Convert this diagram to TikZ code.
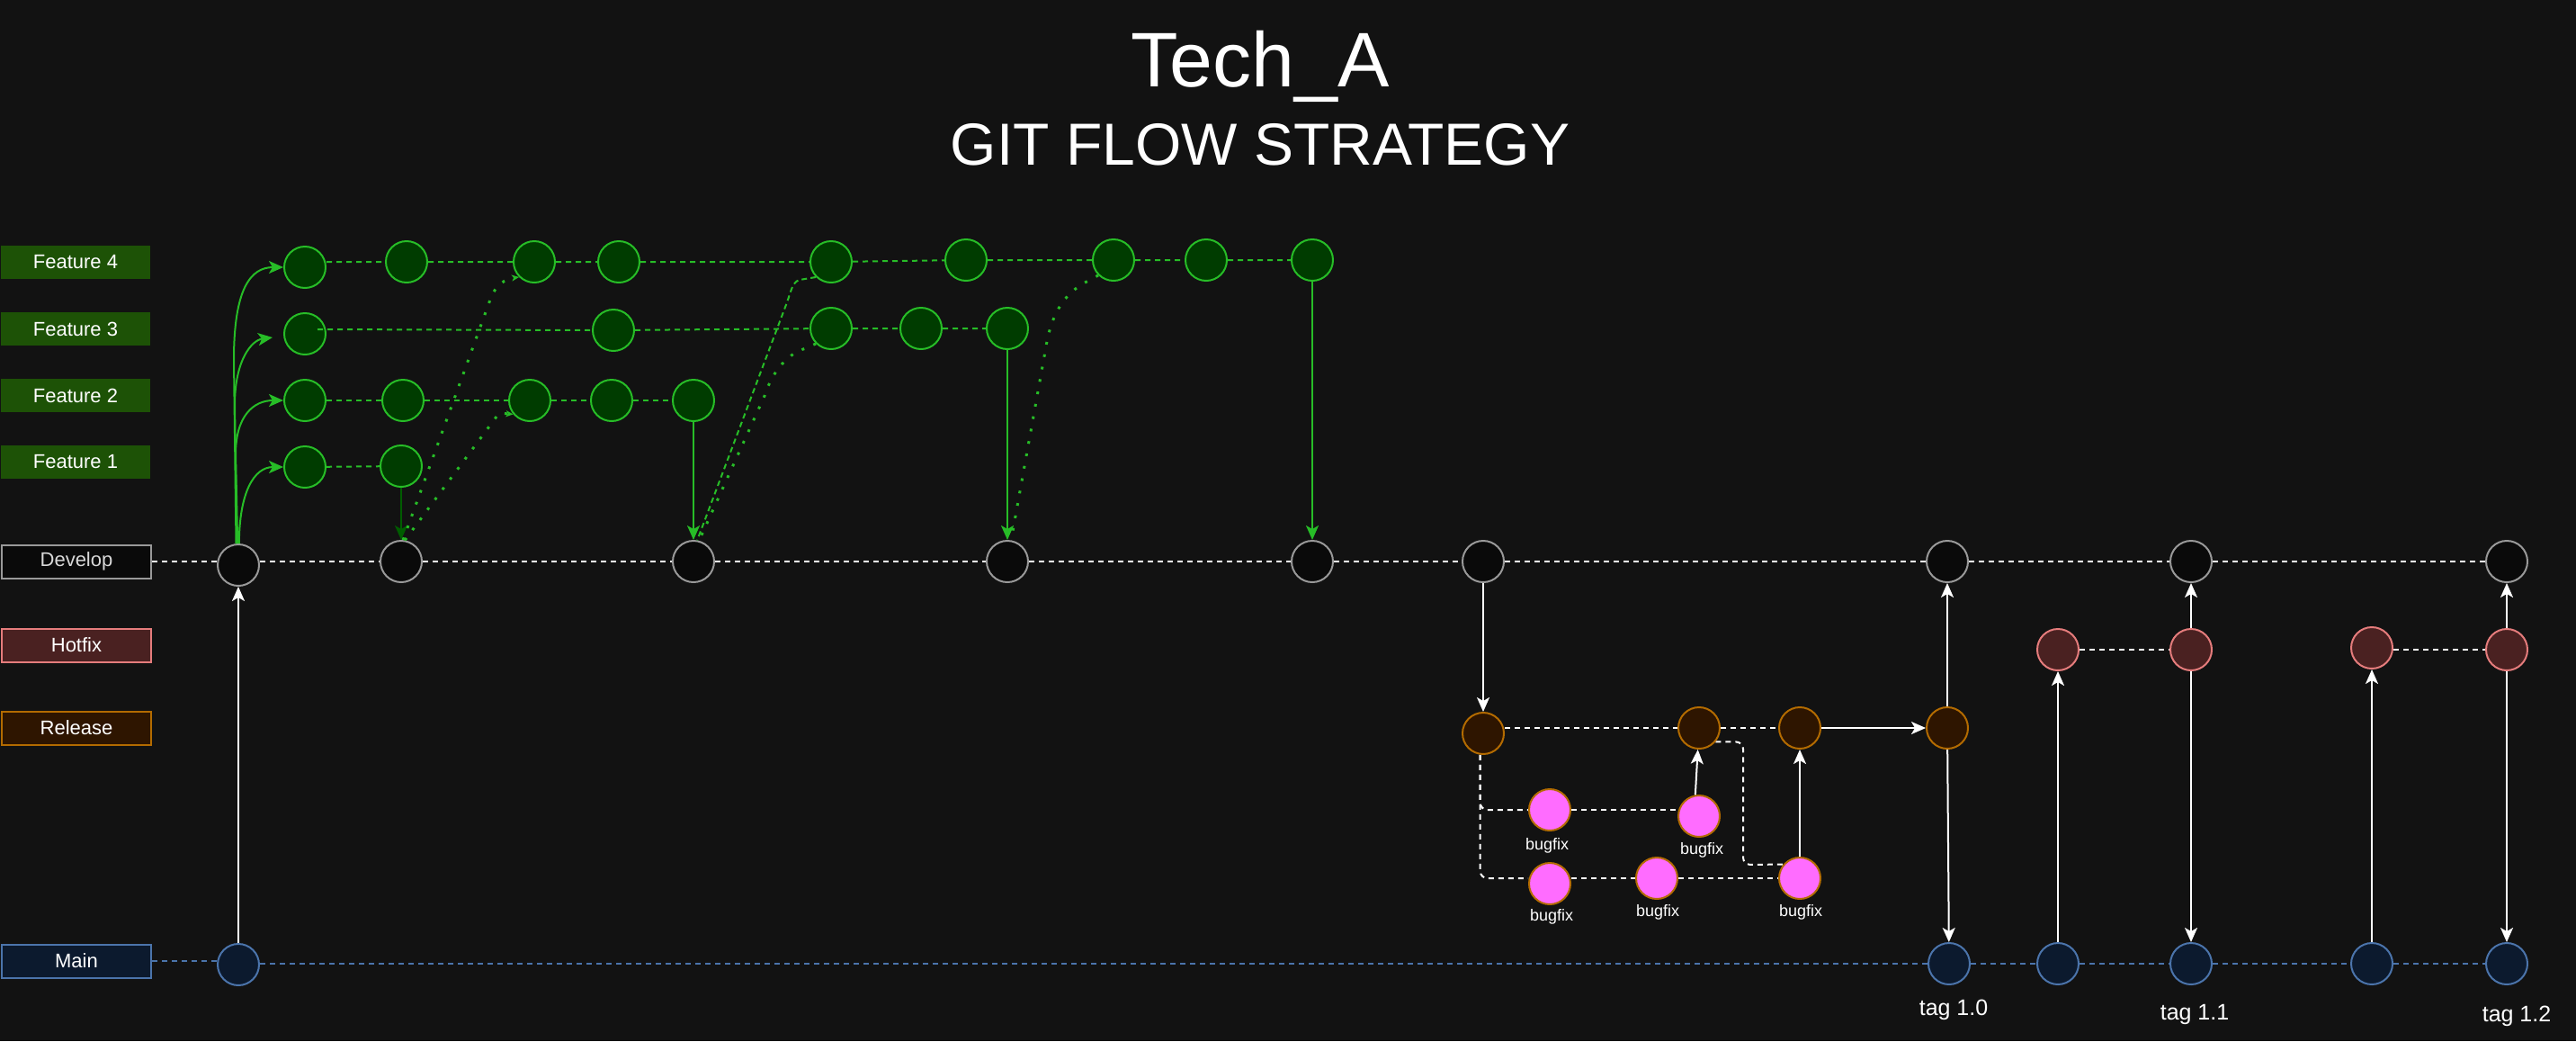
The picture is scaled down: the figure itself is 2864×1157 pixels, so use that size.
\documentclass[tikz,border=0pt]{standalone}
\usepackage{fontspec}
\setmainfont{Liberation Sans}
\usetikzlibrary{arrows.meta,calc}
\pgfdeclarelayer{back}
\pgfdeclarelayer{bg}
\pgfsetlayers{back,bg,main}
\definecolor{bgc}{HTML}{121212}
\definecolor{fgreen}{HTML}{27BD27}
\definecolor{fnode}{HTML}{003C00}
\definecolor{fbox}{HTML}{1D5206}
\definecolor{fdark}{HTML}{005C00}
\definecolor{dfill}{HTML}{0A0A0A}
\definecolor{dstroke}{HTML}{999999}
\definecolor{hfill}{HTML}{4A2121}
\definecolor{hstroke}{HTML}{E57C7C}
\definecolor{rfill}{HTML}{2E1500}
\definecolor{rstroke}{HTML}{B36B00}
\definecolor{mfill}{HTML}{0C1A2E}
\definecolor{mstroke}{HTML}{4B74AB}
\definecolor{bfill}{HTML}{FF6CFF}
\begin{document}
\begin{tikzpicture}[x=1pt,y=-1pt,
  commit/.style={circle, minimum size=46pt, inner sep=0pt, line width=2pt},
  feat/.style={commit, draw=fgreen, fill=fnode},
  devc/.style={commit, draw=dstroke, fill=dfill},
  hotc/.style={commit, draw=hstroke, fill=hfill},
  relc/.style={commit, draw=rstroke, fill=rfill},
  mainc/.style={commit, draw=mstroke, fill=mfill},
  bugc/.style={commit, draw=rstroke, fill=bfill},
  lbl/.style={minimum width=166pt, minimum height=37pt, inner sep=0pt, line width=2pt, text=white, font=\fontsize{22}{24}\selectfont},
  bugl/.style={anchor=base, text=white, inner sep=0pt, font=\fontsize{18}{20}\selectfont},
  tagl/.style={anchor=base, text=white, inner sep=0pt, font=\fontsize{25}{27}\selectfont},
  wdash/.style={draw=white, line width=2pt, dash pattern=on 6pt off 5pt},
  bdash/.style={draw=mstroke, line width=2pt, dash pattern=on 6pt off 5pt},
  gdash/.style={draw=fgreen, line width=2pt, dash pattern=on 6pt off 5pt},
  gfine/.style={draw=fgreen, line width=2pt, dash pattern=on 6pt off 4pt},
  gdot/.style={draw=fgreen, line width=3pt, dash pattern=on 3pt off 11pt},
  bigtip/.style={-{Stealth[length=16pt,width=14pt,inset=4pt]}},
  smalltip/.style={-{Stealth[length=8pt,width=7pt,inset=2pt]}},
  warrow/.style={draw=white, line width=2pt, bigtip},
  garrow/.style={draw=fgreen, line width=2pt, bigtip},
  darrow/.style={draw=fdark, line width=2pt, bigtip},
]
\begin{pgfonlayer}{back}
\fill[bgc] (0,0) rectangle (2864,1157);
\end{pgfonlayer}
\useasboundingbox (0,0) rectangle (2864,1157);

% title
\node[anchor=base, text=white, inner sep=0pt, font=\fontsize{86}{90}\selectfont] (title) at (1401,96) {Tech\_A};
\node[anchor=base, text=white, inner sep=0pt, font=\fontsize{66}{70}\selectfont] (subtitle) at (1401,183) {GIT FLOW STRATEGY};

% lane labels
\node[lbl, fill=fbox] (LF4) at (84,291.5) {Feature 4};
\node[lbl, fill=fbox] (LF3) at (84,365.5) {Feature 3};
\node[lbl, fill=fbox] (LF2) at (84,439.5) {Feature 2};
\node[lbl, fill=fbox] (LF1) at (84,513.5) {Feature 1};
\node[lbl, fill=dfill, draw=dstroke, text=white!85!black] (Ldev) at (85,624) {Develop};
\node[lbl, fill=hfill, draw=hstroke] (Lhot) at (85,717) {Hotfix};
\node[lbl, fill=rfill, draw=rstroke] (Lrel) at (85,809) {Release};
\node[lbl, fill=mfill, draw=mstroke] (Lmain) at (85,1068) {Main};

% develop
\node[devc] (D1) at (265,628) {};
\node[devc] (D2) at (446,624) {};
\node[devc] (D3) at (771,624) {};
\node[devc] (D4) at (1120,624) {};
\node[devc] (D5) at (1459,624) {};
\node[devc] (D6) at (1649,624) {};
\node[devc] (D7) at (2165,624) {};
\node[devc] (D8) at (2436,624) {};
\node[devc] (D9) at (2787,624) {};
% main
\node[mainc] (M1) at (265,1072) {};
\node[mainc] (M2) at (2167,1071) {};
\node[mainc] (M3) at (2288,1071) {};
\node[mainc] (M4) at (2436,1071) {};
\node[mainc] (M5) at (2637,1071) {};
\node[mainc] (M6) at (2787,1071) {};
% hotfix
\node[hotc] (H1) at (2288,722) {};
\node[hotc] (H2) at (2436,722) {};
\node[hotc] (H3) at (2637,720) {};
\node[hotc] (H4) at (2787,722) {};
% release
\node[relc] (R1) at (1649,815) {};
\node[relc] (R2) at (1889,809) {};
\node[relc] (R3) at (2001,809) {};
\node[relc] (R4) at (2165,809) {};
% bugfix
\node[bugc] (G1) at (1723,900) {};
\node[bugc] (G2) at (1889,907) {};
\node[bugc] (G3) at (1723,982) {};
\node[bugc] (G4) at (1842,976) {};
\node[bugc] (G5) at (2001,976) {};
\node[bugl] (g1l) at (1720,944) {bugfix};
\node[bugl] (g2l) at (1892,949) {bugfix};
\node[bugl] (g3l) at (1725,1023) {bugfix};
\node[bugl] (g4l) at (1843,1018) {bugfix};
\node[bugl] (g5l) at (2002,1018) {bugfix};
% tags
\node[tagl] (t10) at (2172,1128) {tag 1.0};
\node[tagl] (t11) at (2440,1133) {tag 1.1};
\node[tagl] (t12) at (2798,1135) {tag 1.2};
% feature 4
\node[feat] (A1) at (339,297) {};
\node[feat] (A2) at (452,291) {};
\node[feat] (A3) at (594,291) {};
\node[feat] (A4) at (688,291) {};
\node[feat] (A5) at (924,291) {};
\node[feat] (A6) at (1074,289) {};
\node[feat] (A7) at (1238,289) {};
\node[feat] (A8) at (1341,289) {};
\node[feat] (A9) at (1459,289) {};
% feature 3
\node[feat] (C1) at (339,371) {};
\node[feat] (C2) at (682,367) {};
\node[feat] (C3) at (924,365) {};
\node[feat] (C4) at (1024,365) {};
\node[feat] (C5) at (1120,365) {};
% feature 2
\node[feat] (B1) at (339,445) {};
\node[feat] (B2) at (448,445) {};
\node[feat] (B3) at (589,445) {};
\node[feat] (B4) at (680,445) {};
\node[feat] (B5) at (771,445) {};
% feature 1
\node[feat] (E1) at (339,519) {};
\node[feat] (E2) at (446,518) {};

\coordinate (c0) at (353,366);
\coordinate (c3tip) at (303,375);
\coordinate (kk) at (1938,961);

\begin{pgfonlayer}{bg}
  \draw[wdash] (Ldev.east) -- (D1.west |- Ldev.east);
  \draw[wdash] (D1.east |- D2) -- (D2) -- (D3) -- (D4) -- (D5) -- (D6) -- (D7) -- (D8) -- (D9);
  \draw[bdash] (Lmain.east) -- (M1.west |- Lmain.east);
  \draw[bdash] (M1.east |- M2) -- (M2) -- (M3) -- (M4) -- (M5) -- (M6);
  \draw[gdash] (A1.east |- A2) -- (A2) -- (A3) -- (A4) -- (A5) -- (A6) -- (A7) -- (A8) -- (A9);
  \draw[gdash] (C2) -- (C3) -- (C4) -- (C5);
  \draw[gdash] (B1) -- (B2) -- (B3) -- (B4) -- (B5);
  \draw[gdash] (E1) -- (E2);
  \draw[wdash] (H1) -- (H2);
  \draw[wdash] (H3.east |- H4) -- (H4);
  \draw[wdash] (R1.east |- R2) -- (R2) -- (R3);
  \draw[wdash] (G1) -- (G2.west |- G1);
  \draw[wdash] (G3.east |- G4) -- (G4) -- (G5);
  \draw[wdash, rounded corners=8pt] (R1.262) |- (G1.west);
  \draw[wdash, rounded corners=8pt] (R1.262) |- (G3.west |- G4);
  \draw[wdash, rounded corners=8pt] (R2.320) -| (kk) -- (G5.140);
\end{pgfonlayer}

\draw[gdash] (c0) -- (C2.west);

% branching from develop
\draw[garrow] (D1.96) -- (260,400) .. controls (260,322) and (278,297) .. (A1.west);
\draw[garrow] (D1.94) -- (261,450) .. controls (261,400) and (280,378) .. (c3tip);
\draw[garrow] (D1.92) -- (262,505) .. controls (262,462) and (282,445) .. (B1.west);
\draw[garrow] (D1.88) .. controls (266,548) and (282,519) .. (E1.west);

% merges into develop
\draw[darrow] (E2) -- (D2);
\draw[garrow] (B5) -- (D3);
\draw[garrow] (C5) -- (D4);
\draw[garrow] (A9) -- (D5);

% syncs
\draw[gdot, smalltip] (D2.85) -- (545,333) .. controls (551,316) and (562,310) .. (A3.225);
\draw[gdot, smalltip] (D2.80) -- (555,459) -- (B3.220);
\draw[gfine] (A5.225) -- (889,311) .. controls (881,313) and (879,325) .. (875,336) -- (D3.80);
\draw[gdot] (C3.225) -- (896,387) .. controls (872,394) and (857,418) .. (850,440) -- (D3.75);
\draw[gdot] (A7.225) -- (1210,312) .. controls (1182,326) and (1169,350) .. (1163,385) -- (D4.80);

% white flows
\draw[warrow] (M1) -- (D1);
\draw[warrow] (D6) -- (R1);
\draw[warrow] (G2.100) -- (R2);
\draw[warrow] (G5) -- (R3);
\draw[warrow] (R3) -- (R4);
\draw[warrow] (R4) -- (D7);
\draw[warrow] (R4) -- (M2);
\draw[warrow] (M3) -- (H1);
\draw[warrow] (H2) -- (D8);
\draw[warrow] (H2) -- (M4);
\draw[warrow] (M5) -- (H3);
\draw[warrow] (H4) -- (D9);
\draw[warrow] (H4) -- (M6);
\end{tikzpicture}
\end{document}
